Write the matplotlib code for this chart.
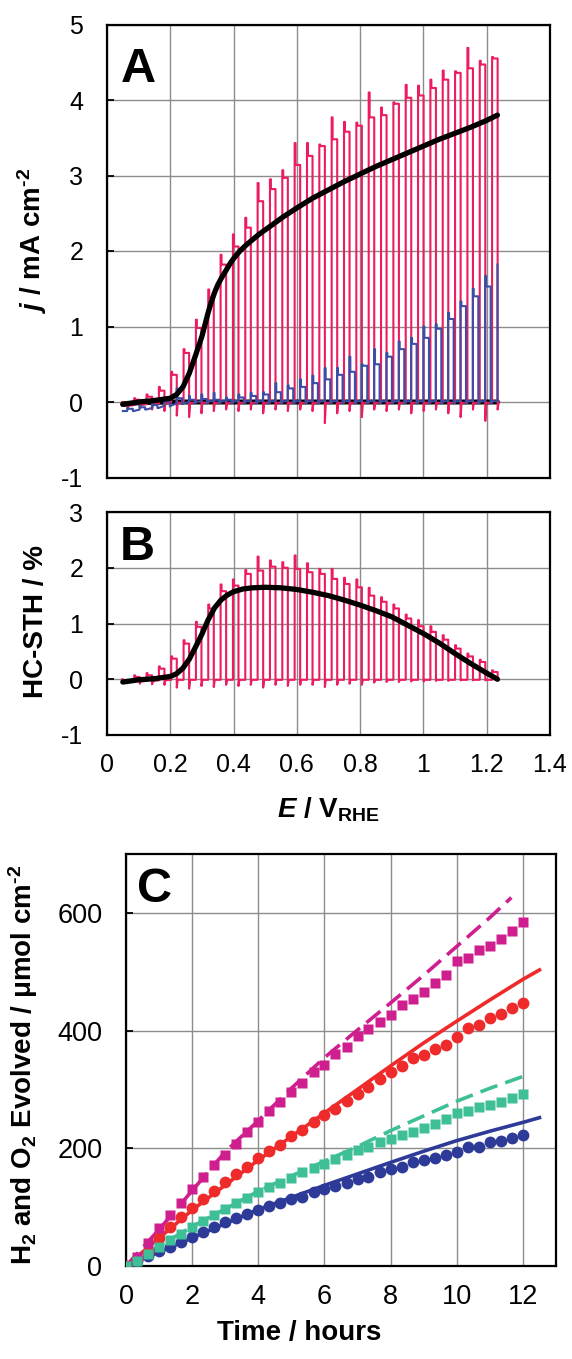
import matplotlib
matplotlib.use("Agg")
import matplotlib.pyplot as plt

plt.rcParams['font.family'] = ['Liberation Sans', 'DejaVu Sans']
plt.rcParams['axes.unicode_minus'] = False
plt.rcParams['mathtext.fontset'] = 'custom'
plt.rcParams['mathtext.rm'] = 'Liberation Sans:bold'
plt.rcParams['mathtext.it'] = 'Liberation Sans:italic:bold'
plt.rcParams['mathtext.bf'] = 'Liberation Sans:bold'

# ---------------- data: panel A / B (chopped LSV) ----------------
E_start = 0.05
E_end = 1.234
on_width = 0.0175

pink_edges = [0.047, 0.086, 0.125, 0.164, 0.203, 0.242, 0.281, 0.320, 0.359, 0.398,
              0.437, 0.476, 0.515, 0.554, 0.593, 0.632, 0.671, 0.710, 0.749, 0.788,
              0.827, 0.866, 0.905, 0.944, 0.983, 1.022, 1.061, 1.100, 1.139, 1.178, 1.217]
pink_spk_A = [0.00, 0.05, 0.10, 0.20, 0.40, 0.70, 1.09, 1.49, 1.95, 2.22, 2.44, 2.90, 2.95,
              3.07, 3.43, 3.43, 3.41, 3.77, 3.71, 3.70, 4.10, 3.90, 3.97, 4.20, 4.19, 4.27,
              4.39, 4.38, 4.69, 4.52, 4.57]
pink_plt_A = [-0.01, 0.03, 0.07, 0.15, 0.36, 0.65, 0.98, 1.38, 1.82, 2.06, 2.31, 2.66, 2.82,
              2.97, 3.14, 3.26, 3.39, 3.48, 3.58, 3.66, 3.77, 3.80, 3.95, 4.03, 4.06, 4.16,
              4.27, 4.36, 4.42, 4.47, 4.55]
pink_dip_A = [-0.07, -0.08, -0.10, -0.12, -0.18, -0.20, -0.15, -0.12, -0.10, -0.12, -0.10,
              -0.15, -0.10, -0.12, -0.10, -0.12, -0.28, -0.15, -0.12, -0.20, -0.10, -0.12,
              -0.10, -0.15, -0.12, -0.10, -0.15, -0.20, -0.10, -0.25, -0.10]
pink_dark_A = [-0.05, -0.04, -0.03, -0.02, -0.01, -0.01, -0.01, -0.01, -0.01, -0.01, -0.01,
               -0.01, -0.01, -0.01, -0.01, -0.01, -0.01, -0.01, -0.01, -0.01, -0.01, -0.01,
               -0.01, -0.01, -0.01, -0.01, -0.01, -0.01, -0.01, -0.01, -0.01]

blue_edges = [0.064, 0.103, 0.142, 0.181, 0.220, 0.259, 0.298, 0.337, 0.376, 0.415,
              0.454, 0.493, 0.532, 0.571, 0.610, 0.649, 0.688, 0.727, 0.766, 0.805,
              0.844, 0.883, 0.922, 0.961, 1.000, 1.039, 1.078, 1.117, 1.156, 1.195, 1.234]
blue_spk = [-0.08, -0.05, -0.02, 0.03, 0.18, 0.08, 0.10, 0.12, 0.06, 0.10, 0.12, 0.13, 0.25,
            0.22, 0.30, 0.35, 0.45, 0.45, 0.60, 0.50, 0.70, 0.65, 0.80, 0.85, 1.00, 1.03,
            1.18, 1.33, 1.50, 1.67, 1.82]
blue_plt = [-0.09, -0.07, -0.04, 0.01, 0.05, 0.03, 0.04, 0.03, 0.03, 0.06, 0.08, 0.10, 0.13,
            0.18, 0.20, 0.25, 0.30, 0.36, 0.40, 0.48, 0.50, 0.60, 0.70, 0.77, 0.85, 0.97,
            1.10, 1.27, 1.40, 1.53, 1.82]
blue_dip = [-0.12, -0.10, -0.08, -0.06, -0.03, -0.02, -0.02, -0.02, -0.02, -0.02, -0.02,
            -0.02, -0.02, -0.02, -0.02, -0.02, -0.02, -0.02, -0.02, -0.02, -0.02, -0.02,
            -0.02, -0.02, -0.02, -0.02, -0.02, -0.02, -0.02, -0.02, -0.02]
blue_dark = [-0.12, -0.10, -0.08, -0.05, -0.02, 0.00, 0.01, 0.01, 0.01, 0.01, 0.01, 0.01,
             0.01, 0.01, 0.01, 0.01, 0.01, 0.01, 0.01, 0.01, 0.01, 0.01, 0.01, 0.01, 0.01,
             0.01, 0.01, 0.01, 0.01, 0.01, 0.01]

lsv_E = [0.05, 0.10, 0.15, 0.20, 0.22, 0.24, 0.26, 0.28, 0.30, 0.31, 0.32, 0.33, 0.34,
         0.35, 0.36, 0.37, 0.38, 0.39, 0.40, 0.42, 0.44, 0.46, 0.48, 0.50, 0.52, 0.556,
         0.60, 0.65, 0.70, 0.75, 0.80, 0.85, 0.90, 0.95, 1.00, 1.05, 1.10, 1.15, 1.20, 1.234]
lsv_j = [-0.03, 0.00, 0.02, 0.05, 0.10, 0.20, 0.38, 0.62, 0.87, 1.03, 1.19, 1.33, 1.45,
         1.55, 1.63, 1.70, 1.77, 1.84, 1.90, 2.00, 2.08, 2.15, 2.22, 2.28, 2.34, 2.45,
         2.57, 2.70, 2.81, 2.92, 3.02, 3.12, 3.21, 3.30, 3.39, 3.48, 3.56, 3.64, 3.73, 3.80]
dark_E = [0.05, 0.10, 0.20, 1.234]
dark_j = [-0.03, -0.01, 0.00, 0.00]

pink_spk_B = [0.00, 0.07, 0.11, 0.23, 0.41, 0.70, 1.03, 1.34, 1.70, 1.79, 1.96, 2.20, 2.13,
              2.10, 2.22, 2.08, 1.98, 1.98, 1.82, 1.79, 1.64, 1.47, 1.34, 1.16, 1.06, 0.95,
              0.79, 0.61, 0.46, 0.35, 0.16]
pink_plt_B = [-0.02, 0.04, 0.07, 0.19, 0.37, 0.64, 0.94, 1.27, 1.58, 1.68, 1.89, 1.95, 2.02,
              2.00, 1.98, 1.92, 1.89, 1.80, 1.71, 1.65, 1.50, 1.39, 1.27, 1.09, 0.95, 0.85,
              0.71, 0.55, 0.41, 0.31, 0.13]
pink_dip_B = [-0.07, -0.08, -0.09, -0.10, -0.15, -0.17, -0.12, -0.14, -0.10, -0.12, -0.10,
              -0.15, -0.10, -0.12, -0.10, -0.10, -0.14, -0.10, -0.08, -0.10, -0.06, -0.05,
              -0.05, -0.04, -0.04, -0.03, -0.03, -0.02, -0.02, -0.02, -0.01]
pink_dark_B = [-0.05, -0.04, -0.03, -0.02, -0.01, -0.01, -0.01, -0.01, -0.01, -0.01, -0.01,
               -0.01, -0.01, -0.01, -0.01, -0.01, -0.01, -0.01, -0.01, -0.01, -0.01, -0.01,
               -0.01, -0.01, -0.01, -0.01, -0.01, -0.01, -0.01, -0.01, -0.01]

stth_E = [0.05, 0.10, 0.15, 0.20, 0.22, 0.24, 0.26, 0.28, 0.30, 0.32, 0.34, 0.36, 0.38,
          0.40, 0.43, 0.46, 0.50, 0.55, 0.60, 0.65, 0.70, 0.75, 0.80, 0.85, 0.90, 0.95,
          1.00, 1.05, 1.10, 1.15, 1.20, 1.234]
stth_v = [-0.05, -0.01, 0.01, 0.05, 0.10, 0.20, 0.36, 0.58, 0.81, 1.07, 1.28, 1.42, 1.51,
          1.57, 1.62, 1.64, 1.65, 1.64, 1.61, 1.56, 1.50, 1.42, 1.33, 1.23, 1.12, 0.97,
          0.82, 0.65, 0.46, 0.28, 0.11, 0.00]

# ---------------- data: panel C (gas evolution) ----------------
t_hours = [0, 0.33, 0.67, 1, 1.33, 1.67, 2, 2.33, 2.67, 3, 3.33, 3.67, 4, 4.33, 4.67, 5,
           5.33, 5.67, 6, 6.33, 6.67, 7, 7.33, 7.67, 8, 8.33, 8.67, 9, 9.33, 9.67, 10,
           10.33, 10.67, 11, 11.33, 11.67, 12]
h2_meas_magenta = [0, 16, 39, 64, 87, 107, 130, 151, 171, 189, 207, 228, 244, 264, 279, 296,
                   311, 329, 341, 360, 372, 391, 402, 415, 427, 443, 453, 466, 480, 495, 518,
                   524, 537, 544, 556, 569, 584]
h2_meas_red = [0, 12, 23, 48, 67, 84, 99, 113, 128, 143, 157, 168, 183, 195, 206, 221, 231,
               244, 256, 267, 281, 292, 304, 318, 329, 340, 353, 358, 369, 376, 389, 405,
               409, 422, 428, 439, 446]
o2_meas_teal = [0, 9, 21, 33, 45, 55, 67, 77, 87, 96, 107, 116, 125, 134, 141, 149, 160, 166,
                174, 182, 189, 197, 203, 210, 215, 222, 228, 234, 241, 250, 260, 263, 270,
                273, 279, 285, 292]
o2_meas_blue = [0, 8, 17, 25, 33, 41, 49, 58, 67, 74, 81, 89, 95, 102, 107, 113, 118, 125,
                131, 136, 141, 147, 151, 160, 164, 168, 177, 180, 184, 188, 193, 202, 203,
                211, 212, 217, 222]

calc_magenta_t = [0, 1, 2, 3, 4, 5, 6, 7, 8, 9, 10, 11, 11.65]
calc_magenta_v = [0, 62, 128, 194, 247, 302, 354, 401, 447, 494, 543, 592, 626]
calc_red_t = [0, 2, 4, 6, 8, 9, 10, 11, 12, 12.5]
calc_red_v = [0, 95, 180, 260, 340, 379, 416, 452, 487, 503]
calc_teal_t = [0, 1, 2, 3, 4, 5, 6, 7, 8, 9, 10, 11, 12]
calc_teal_v = [0, 34, 67, 97, 127, 153, 178, 203, 230, 255, 280, 302, 322]
calc_blue_t = [0, 2, 4, 6, 8, 9, 10, 11, 12, 12.5]
calc_blue_v = [0, 48, 96, 137, 176, 195, 213, 229, 244, 252]

PINK = '#EC1C5E'
BLUE = '#3B4EA6'
C_MAG = '#CF1F8E'
C_RED = '#EE2A2A'
C_TEAL = '#3FBF98'
C_NAVY = '#2E3A98'
GRID = '#8C8C8C'


def chopped(edges, spk, plt_, dip, dark, start, end, width):
    xs = [start]
    ys = [dark[0]]
    for i, e in enumerate(edges):
        xs += [e, e]
        ys += [dark[i], spk[i]]
        if e + 1e-9 >= end:
            break
        xs += [e + 0.003, e + 0.003, e + width, e + width, e + width + 0.003]
        ys += [spk[i], plt_[i], plt_[i], dip[i], dark[i]]
    return xs, ys


W, H = 572, 1359
fig = plt.figure(figsize=(W / 100, H / 100), dpi=100)


def add_axes(l, r, t, b):
    return fig.add_axes([l / W, 1 - b / H, (r - l) / W, (b - t) / H])


axA = add_axes(107, 550, 24.5, 477.5)
axB = add_axes(107, 550, 512, 735)
axC = add_axes(126, 556, 854, 1266)

for ax in (axA, axB, axC):
    ax.grid(True, color=GRID, lw=1.0, zorder=0)
    ax.set_axisbelow(True)
    for s in ax.spines.values():
        s.set_linewidth(1.6)
        s.set_color('black')
    ax.tick_params(axis='y', direction='in', length=5, width=1.3, pad=17, labelsize=18, right=False)
    ax.tick_params(axis='x', direction='in', length=0, pad=13, labelsize=18, top=False)

# ---- Panel A ----
axA.plot(dark_E, dark_j, color='black', lw=3.6, solid_capstyle='round', zorder=2)
xp, yp = chopped(pink_edges, pink_spk_A, pink_plt_A, pink_dip_A, pink_dark_A, E_start, E_end, on_width)
axA.plot(xp, yp, color=PINK, lw=1.5, zorder=3)
xb, yb = chopped(blue_edges, blue_spk, blue_plt, blue_dip, blue_dark, E_start, E_end, on_width)
axA.plot(xb, yb, color=BLUE, lw=1.5, zorder=4)
axA.plot(lsv_E, lsv_j, color='black', lw=3.8, solid_capstyle='round', solid_joinstyle='round', zorder=5)
axA.set_xlim(0, 1.4)
axA.set_ylim(-1, 5)
axA.set_xticks([0, 0.2, 0.4, 0.6, 0.8, 1.0, 1.2, 1.4])
axA.set_xticklabels([])
axA.set_yticks([-1, 0, 1, 2, 3, 4, 5])
axA.set_ylabel(r'$j$ / mA cm$^{\text{-2}}$', fontsize=20, fontweight='bold')
axA.yaxis.set_label_coords(-0.13, 0.524)
axA.text(0.03, 0.873, 'A', transform=axA.transAxes, fontsize=35, fontweight='bold',
         ha='left', va='baseline')

# ---- Panel B ----
xp, yp = chopped(pink_edges, pink_spk_B, pink_plt_B, pink_dip_B, pink_dark_B, E_start, E_end, on_width)
axB.plot(xp, yp, color=PINK, lw=1.5, zorder=3)
axB.plot(stth_E, stth_v, color='black', lw=3.8, solid_capstyle='round', solid_joinstyle='round', zorder=5)
axB.set_xlim(0, 1.4)
axB.set_ylim(-1, 3)
axB.set_xticks([0, 0.2, 0.4, 0.6, 0.8, 1.0, 1.2, 1.4])
axB.set_xticklabels(['0', '0.2', '0.4', '0.6', '0.8', '1', '1.2', '1.4'])
axB.set_yticks([-1, 0, 1, 2, 3])
axB.set_ylabel('HC-STH / %', fontsize=20, fontweight='bold')
axB.yaxis.set_label_coords(-0.13, 0.507)
axB.set_xlabel(r'$E$ / V$_{\mathrm{RHE}}$', fontsize=20, fontweight='bold')
axB.xaxis.set_label_coords(0.5, -0.27)
axB.text(0.029, 0.785, 'B', transform=axB.transAxes, fontsize=35, fontweight='bold',
         ha='left', va='baseline')

# ---- Panel C ----
axC.plot(calc_blue_t, calc_blue_v, color=C_NAVY, lw=2.6, zorder=3)
axC.plot(t_hours, o2_meas_blue, 'o', color=C_NAVY, ms=8.5, mec='none', zorder=4)
axC.plot(calc_red_t, calc_red_v, color=C_RED, lw=2.6, zorder=3)
axC.plot(t_hours, h2_meas_red, 'o', color=C_RED, ms=8.5, mec='none', zorder=4)
axC.plot(calc_magenta_t, calc_magenta_v, color=C_MAG, lw=2.6, dashes=(5, 2.3), zorder=3)
axC.plot(t_hours, h2_meas_magenta, 's', color=C_MAG, ms=7.5, mec='none', zorder=4)
axC.plot(calc_teal_t, calc_teal_v, color=C_TEAL, lw=2.6, dashes=(5, 2.3), zorder=3)
axC.plot(t_hours, o2_meas_teal, 's', color=C_TEAL, ms=7.5, mec='none', zorder=5)
axC.set_xlim(0, 13)
axC.set_ylim(0, 700)
axC.set_xticks([0, 2, 4, 6, 8, 10, 12])
axC.set_yticks([0, 200, 400, 600])
axC.tick_params(axis='both', labelsize=19.5)
axC.set_ylabel(r'H$_{\mathbf{2}}$ and O$_{\mathbf{2}}$ Evolved / μmol cm$^{\text{-2}}$',
               fontsize=20, fontweight='bold')
axC.yaxis.set_label_coords(-0.2, 0.488)
axC.set_xlabel('Time / hours', fontsize=20, fontweight='bold')
axC.xaxis.set_label_coords(0.402, -0.13)
axC.text(0.025, 0.883, 'C', transform=axC.transAxes, fontsize=35, fontweight='bold',
         ha='left', va='baseline')

fig.savefig('out.png', dpi=100)
